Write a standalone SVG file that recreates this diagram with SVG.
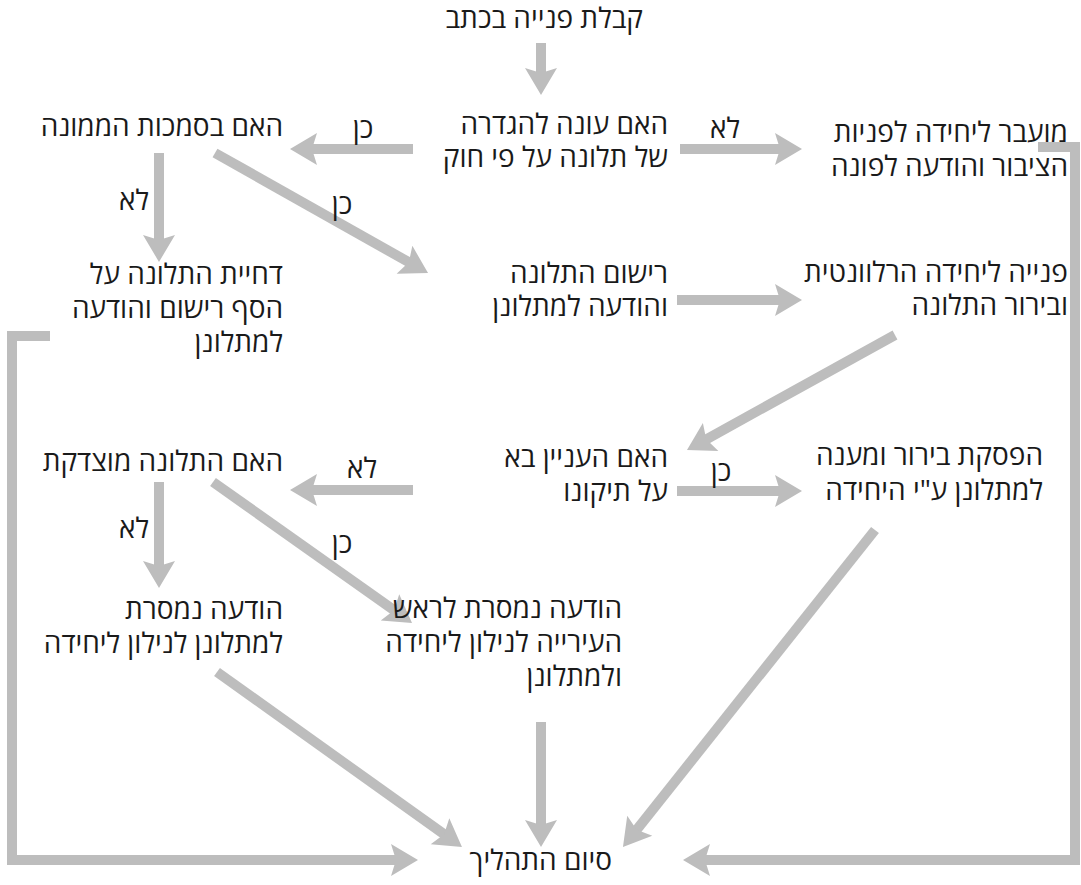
<svg xmlns="http://www.w3.org/2000/svg" width="1081" height="885" viewBox="0 0 1081 885">
<style>
text{font-family:"Open Sans","DejaVu Sans",sans-serif;font-size:28px;fill:#1a1a1a}
.n text{direction:rtl;text-anchor:start}
.lbl{text-anchor:middle}
.c{stroke:#bdbdbd;stroke-width:10;fill:none;marker-end:url(#ah)}
</style>
<defs>
<marker id="ah" markerUnits="userSpaceOnUse" orient="auto" refX="0" refY="0" markerWidth="40" markerHeight="40" overflow="visible">
<path d="M20,0 L-7,-16 L-2,0 L-7,16 Z" fill="#bdbdbd"/>
</marker>
</defs>
<rect width="1081" height="885" fill="#fff"/>
<g id="connectors">
<line class="c" x1="541" y1="43" x2="541" y2="75"/>
<line class="c" x1="413" y1="149" x2="310" y2="149"/>
<line class="c" x1="680" y1="149" x2="782" y2="149"/>
<line class="c" x1="159" y1="153" x2="159" y2="242"/>
<line class="c" x1="215" y1="153" x2="410.6" y2="263.2"/>
<line class="c" x1="677" y1="300" x2="782" y2="300"/>
<line class="c" x1="895" y1="335" x2="704.5" y2="440.3"/>
<line class="c" x1="413" y1="490" x2="310" y2="490"/>
<line class="c" x1="677" y1="491" x2="782" y2="491"/>
<line class="c" x1="159" y1="482" x2="159" y2="568"/>
<line class="c" x1="213" y1="482" x2="395.7" y2="611.4"/>
<line class="c" x1="217" y1="672" x2="445.7" y2="835.4"/>
<line class="c" x1="541" y1="722" x2="541" y2="827"/>
<line class="c" x1="875" y1="530" x2="635.4" y2="831.3"/>
<polyline class="c" points="50,336 12,336 12,860 398,860"/>
<polyline class="c" points="1038,147 1075,147 1075,860 703,860"/>
<text class="lbl" x="363" y="138">כן</text>
<text class="lbl" x="725" y="138">לא</text>
<text class="lbl" x="134" y="210">לא</text>
<text class="lbl" x="342" y="214">כן</text>
<text class="lbl" x="362" y="478">לא</text>
<text class="lbl" x="721" y="481">כן</text>
<text class="lbl" x="134" y="538">לא</text>
<text class="lbl" x="342" y="553">כן</text>
</g>
<g class="n">
<g id="n1"><text x="643" y="28">קבלת פנייה בכתב</text></g>
<g id="n2"><text x="668" y="134">האם עונה להגדרה</text><text x="668" y="167">של תלונה על פי חוק</text></g>
<g id="n3"><text x="283" y="136">האם בסמכות הממונה</text></g>
<g id="n4"><text x="1068" y="142">מועבר ליחידה לפניות</text><text x="1068" y="176">הציבור והודעה לפונה</text></g>
<g id="n5"><text x="283" y="284">דחיית התלונה על</text><text x="283" y="318">הסף רישום והודעה</text><text x="283" y="352">למתלונן</text></g>
<g id="n6"><text x="668" y="283">רישום התלונה</text><text x="668" y="316">והודעה למתלונן</text></g>
<g id="n7"><text x="1068" y="282">פנייה ליחידה הרלוונטית</text><text x="1068" y="315">ובירור התלונה</text></g>
<g id="n8"><text x="283" y="471">האם התלונה מוצדקת</text></g>
<g id="n9"><text x="668" y="467">האם העניין בא</text><text x="668" y="501">על תיקונו</text></g>
<g id="n10"><text x="1043" y="465">הפסקת בירור ומענה</text><text x="1043" y="500">למתלונן ע"י היחידה</text></g>
<g id="n11"><text x="283" y="619">הודעה נמסרת</text><text x="283" y="653">למתלונן לנילון ליחידה</text></g>
<g id="n12"><text x="622" y="618">הודעה נמסרת לראש</text><text x="622" y="652">העירייה לנילון ליחידה</text><text x="622" y="686">ולמתלונן</text></g>
<g id="n13"><text x="612" y="870">סיום התהליך</text></g>
</g>
</svg>
